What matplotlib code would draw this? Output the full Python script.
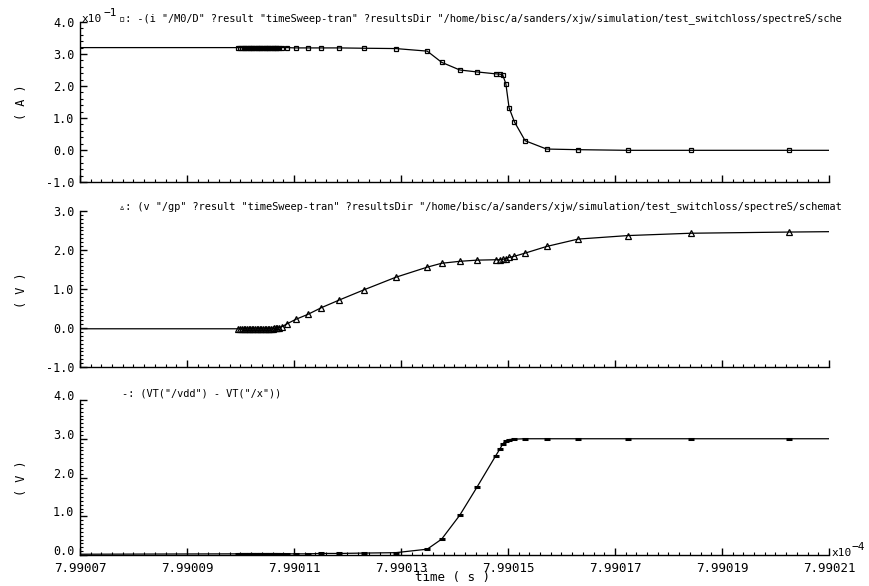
import numpy as np
import matplotlib
matplotlib.use("Agg")
import matplotlib.pyplot as plt
from matplotlib.ticker import FixedLocator, MultipleLocator, FormatStrFormatter

plt.rcParams['font.family'] = ['DejaVu Sans Mono', 'DejaVu Sans']

# time axis in units of 1e-4 s (shared by all three traces)
time = [7.99007,
        7.9900995, 7.9900999, 7.9901003, 7.9901006, 7.9901009, 7.9901012,
        7.9901015, 7.9901018, 7.9901021, 7.9901024, 7.9901027, 7.9901030,
        7.9901033, 7.9901036, 7.9901039, 7.9901042, 7.9901045, 7.9901048,
        7.9901051, 7.9901054, 7.9901057, 7.9901060, 7.9901063, 7.9901066,
        7.9901069, 7.9901072,
        7.9901077, 7.9901086, 7.9901103, 7.9901126, 7.9901151, 7.9901185,
        7.9901231, 7.9901290, 7.9901349, 7.9901376, 7.9901410, 7.9901442,
        7.9901477, 7.9901485, 7.9901490, 7.9901496, 7.9901502, 7.9901512,
        7.9901532, 7.9901572, 7.9901631, 7.9901724, 7.9901842, 7.9902025,
        7.99021]

# drain current, units of 1e-1 A
i_drain = [3.20,
           3.20, 3.20, 3.20, 3.20, 3.20, 3.20,
           3.20, 3.20, 3.20, 3.20, 3.20, 3.20,
           3.20, 3.20, 3.20, 3.20, 3.20, 3.20,
           3.20, 3.20, 3.20, 3.20, 3.20, 3.20,
           3.20, 3.20,
           3.20, 3.20, 3.19, 3.19, 3.19, 3.19,
           3.18, 3.17, 3.09, 2.74, 2.50, 2.44,
           2.38, 2.37, 2.35, 2.07, 1.32, 0.88,
           0.29, 0.03, 0.01, -0.01, -0.01, -0.01,
           -0.01]

# gate voltage (V)
v_gp = [-0.02,
        -0.02, -0.02, -0.02, -0.02, -0.02, -0.02,
        -0.02, -0.02, -0.02, -0.02, -0.02, -0.02,
        -0.02, -0.02, -0.02, -0.02, -0.02, -0.02,
        -0.02, -0.02, -0.02, -0.02, -0.01, -0.01,
        0.0, 0.01,
        0.03, 0.10, 0.22, 0.35, 0.52, 0.72,
        0.98, 1.30, 1.56, 1.66, 1.71, 1.74,
        1.75, 1.75, 1.76, 1.78, 1.81, 1.84,
        1.92, 2.09, 2.28, 2.37, 2.43, 2.46,
        2.47]

# vdd - x (V)
v_dx = [0.02,
        0.03, 0.03, 0.03, 0.03, 0.03, 0.03,
        0.03, 0.03, 0.03, 0.03, 0.03, 0.03,
        0.03, 0.03, 0.03, 0.03, 0.03, 0.03,
        0.03, 0.03, 0.03, 0.03, 0.03, 0.03,
        0.03, 0.03,
        0.03, 0.03, 0.03, 0.03, 0.04, 0.04,
        0.05, 0.06, 0.15, 0.41, 1.03, 1.75,
        2.56, 2.74, 2.86, 2.95, 2.98, 2.99,
        3.00, 3.00, 3.00, 3.00, 3.00, 3.00,
        3.00]

x_ticks = [7.99007, 7.99009, 7.99011, 7.99013, 7.99015, 7.99017, 7.99019, 7.99021]

W, H = 869, 586
fig = plt.figure(figsize=(W / 100, H / 100), dpi=100)


def px(x, y):
    return x / W, 1 - y / H


def panel(y_top, y_bot, ylo, yhi, yminor):
    ax = fig.add_axes([80 / W, 1 - y_bot / H, (829 - 80) / W, (y_bot - y_top) / H])
    ax.set_xlim(7.99007, 7.99021)
    ax.set_ylim(ylo, yhi)
    for s in ['top', 'right']:
        ax.spines[s].set_visible(False)
    for s in ['left', 'bottom']:
        ax.spines[s].set_linewidth(1.0)
    ax.xaxis.set_major_locator(FixedLocator(x_ticks))
    ax.xaxis.set_minor_locator(MultipleLocator(0.000002))
    ax.yaxis.set_major_locator(MultipleLocator(1.0))
    ax.yaxis.set_minor_locator(MultipleLocator(yminor))
    ax.yaxis.set_major_formatter(FormatStrFormatter('%.1f'))
    ax.xaxis.set_major_formatter(FormatStrFormatter('%.5f'))
    ax.tick_params(which='major', direction='in', length=5, width=1, labelsize=8.5, pad=4)
    ax.tick_params(which='minor', direction='in', length=2, width=0.8)
    ax.tick_params(axis='x', labelbottom=False)
    return ax


line_kw = dict(color='black', linewidth=0.9, markerfacecolor='none',
               markeredgecolor='black', markevery=slice(1, -1))

ax1 = panel(22, 182, -1.0, 4.0, 0.2)
ax1.plot(time, i_drain, marker='s', markersize=3.4, markeredgewidth=0.9, **line_kw)

ax2 = panel(211, 367, -1.0, 3.0, 0.1)
ax2.plot(time, v_gp, marker='^', markersize=4.0, markeredgewidth=0.9, **line_kw)

ax3 = panel(400, 555, 0.0, 4.0, 0.1)
ax3.plot(time, v_dx, marker='_', markersize=5, markeredgewidth=2.2, **line_kw)
ax3.tick_params(axis='x', labelbottom=True, labelsize=9, pad=5)
for lbl in ax3.get_yticklabels():
    lbl.set_verticalalignment('baseline')

fs = 7.35
fig.text(*px(82, 19), 'x10', fontsize=8, va='center', ha='left')
fig.text(*px(103, 13), '\u22121', fontsize=8, va='center', ha='left')
fig.text(*px(119, 19),
         '\u25ab: -(i "/M0/D" ?result "timeSweep-tran" ?resultsDir '
         '"/home/bisc/a/sanders/xjw/simulation/test_switchloss/spectreS/sche',
         fontsize=fs, va='center', ha='left')
fig.text(*px(119, 207),
         '\u25b5: (v "/gp" ?result "timeSweep-tran" ?resultsDir '
         '"/home/bisc/a/sanders/xjw/simulation/test_switchloss/spectreS/schemat',
         fontsize=fs, va='center', ha='left')
fig.text(*px(122, 394), '-: (VT("/vdd") - VT("/x"))',
         fontsize=fs, va='center', ha='left')

fig.text(*px(22, 102), '( A )', fontsize=8.5, rotation=90, va='center', ha='center')
fig.text(*px(22, 290), '( V )', fontsize=8.5, rotation=90, va='center', ha='center')
fig.text(*px(22, 478), '( V )', fontsize=8.5, rotation=90, va='center', ha='center')

fig.text(*px(832, 553), 'x10', fontsize=8, va='center', ha='left')
fig.text(*px(852, 547), '\u22124', fontsize=8, va='center', ha='left')
fig.text(*px(452, 578), 'time ( s )', fontsize=9, va='center', ha='center')

fig.savefig('out.png', dpi=100)
